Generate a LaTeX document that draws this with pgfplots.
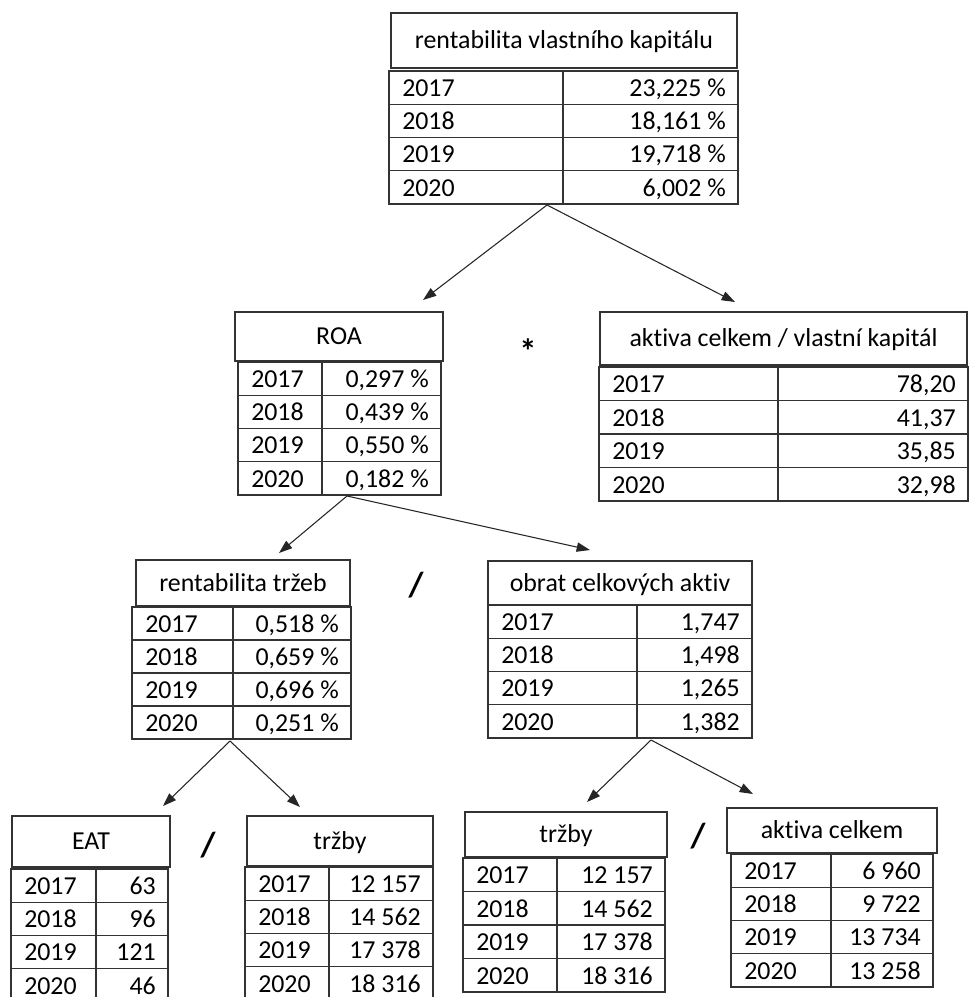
\documentclass[border=0pt]{standalone}
\usepackage{fontspec}
\setmainfont{Carlito}[RawFeature=-liga]
\usepackage{pgfplots}
\pgfplotsset{compat=1.18}
\usetikzlibrary{calc,arrows.meta}

\tikzset{
  cell/.style={draw=black!80, line width=1pt},
  txt/.style={inner sep=0pt, text height=12.2pt, text depth=0pt,
    font=\fontsize{19.4pt}{22pt}\selectfont},
  op/.style={inner sep=0pt, font=\fontsize{26pt}{28pt}\selectfont\bfseries},
  arr/.style={draw=black!85, line width=0.8pt, -{Triangle[length=10pt,width=7pt]}},
}

% header box: left right top bottom title
\newcommand{\hdr}[5]{%
  \draw[cell] (axis cs:#1,#3) rectangle (axis cs:#2,#4);
  \node[txt] at ($(axis cs:#1,#3)!0.5!(axis cs:#2,#4)$) {#5};}

% year rows: left right divider top bottom v2017 v2018 v2019 v2020
\newcommand{\rows}[9]{%
  \draw[cell] (axis cs:#1,#4) rectangle (axis cs:#2,#5);
  \draw[cell] (axis cs:#3,#4) -- (axis cs:#3,#5);
  \draw[cell] ($(axis cs:#1,#4)!0.25!(axis cs:#1,#5)$) -- ($(axis cs:#2,#4)!0.25!(axis cs:#2,#5)$);
  \draw[cell] ($(axis cs:#1,#4)!0.5!(axis cs:#1,#5)$) -- ($(axis cs:#2,#4)!0.5!(axis cs:#2,#5)$);
  \draw[cell] ($(axis cs:#1,#4)!0.75!(axis cs:#1,#5)$) -- ($(axis cs:#2,#4)!0.75!(axis cs:#2,#5)$);
  \node[txt, anchor=west, xshift=9.75pt] at ($(axis cs:#1,#4)!0.13!(axis cs:#1,#5)$) {2017};
  \node[txt, anchor=west, xshift=9.75pt] at ($(axis cs:#1,#4)!0.38!(axis cs:#1,#5)$) {2018};
  \node[txt, anchor=west, xshift=9.75pt] at ($(axis cs:#1,#4)!0.63!(axis cs:#1,#5)$) {2019};
  \node[txt, anchor=west, xshift=9.75pt] at ($(axis cs:#1,#4)!0.88!(axis cs:#1,#5)$) {2020};
  \node[txt, anchor=east, xshift=-9pt] at ($(axis cs:#2,#4)!0.13!(axis cs:#2,#5)$) {#6};
  \node[txt, anchor=east, xshift=-9pt] at ($(axis cs:#2,#4)!0.38!(axis cs:#2,#5)$) {#7};
  \node[txt, anchor=east, xshift=-9pt] at ($(axis cs:#2,#4)!0.63!(axis cs:#2,#5)$) {#8};
  \node[txt, anchor=east, xshift=-9pt] at ($(axis cs:#2,#4)!0.88!(axis cs:#2,#5)$) {#9};}

\begin{document}
\begin{tikzpicture}
\begin{axis}[
    width=728.25pt, height=747.75pt, scale only axis,
    xmin=0, xmax=971, ymin=0, ymax=997,
    y dir=reverse,
    axis lines=none,
    clip=true,
]
\addplot[draw=none] coordinates {(0,0) (971,997)};

% rentabilita vlastniho kapitalu
\hdr{391}{737}{13}{68}{rentabilita vlastního kapitálu}
\rows{389}{738}{563}{71}{204}{23,225~\%}{18,161~\%}{19,718~\%}{6,002~\%}

% ROA
\hdr{235}{443}{312}{361}{ROA}
\rows{238}{441}{322}{362}{495}{0,297~\%}{0,439~\%}{0,550~\%}{0,182~\%}

% aktiva celkem / vlastni kapital
\hdr{600}{967}{312}{365}{aktiva celkem / vlastní kapitál}
\rows{599}{968}{778}{367}{501}{78,20}{41,37}{35,85}{32,98}

% rentabilita trzeb
\hdr{136}{350}{560}{606}{rentabilita tržeb}
\rows{132}{351}{233}{607}{739}{0,518~\%}{0,659~\%}{0,696~\%}{0,251~\%}

% obrat celkovych aktiv
\hdr{488}{752}{561}{605}{obrat celkových aktiv}
\rows{488}{752}{637}{605}{738}{1,747}{1,498}{1,265}{1,382}

% EAT
\hdr{12}{170}{816}{867}{EAT}
\rows{11}{168}{96}{869}{1002}{63}{96}{121}{46}

% trzby (left)
\hdr{247}{433}{816}{866}{tržby}
\rows{245}{433}{329}{867}{1000}{12 157}{14 562}{17 378}{18 316}

% trzby (right)
\hdr{465}{667}{812}{857}{tržby}
\rows{463}{665}{557}{858}{992}{12 157}{14 562}{17 378}{18 316}

% aktiva celkem
\hdr{727}{937}{808}{853}{aktiva celkem}
\rows{731}{933}{831}{854}{987}{6 960}{9 722}{13 734}{13 258}

% arrows
\draw[arr] (axis cs:547,205) -- (axis cs:423,300);
\draw[arr] (axis cs:547,205) -- (axis cs:735,302);
\draw[arr] (axis cs:347,496) -- (axis cs:279,553);
\draw[arr] (axis cs:347,496) -- (axis cs:590,550);
\draw[arr] (axis cs:230,741) -- (axis cs:163,806);
\draw[arr] (axis cs:230,741) -- (axis cs:300,807);
\draw[arr] (axis cs:651,740) -- (axis cs:587,802);
\draw[arr] (axis cs:651,740) -- (axis cs:753,794);

% operators
\node[op, anchor=north] at (axis cs:528,338) {*};
\node[op] at (axis cs:416,585) {/};
\node[op] at (axis cs:208,845) {/};
\node[op] at (axis cs:698,836) {/};
\end{axis}
\end{tikzpicture}
\end{document}
